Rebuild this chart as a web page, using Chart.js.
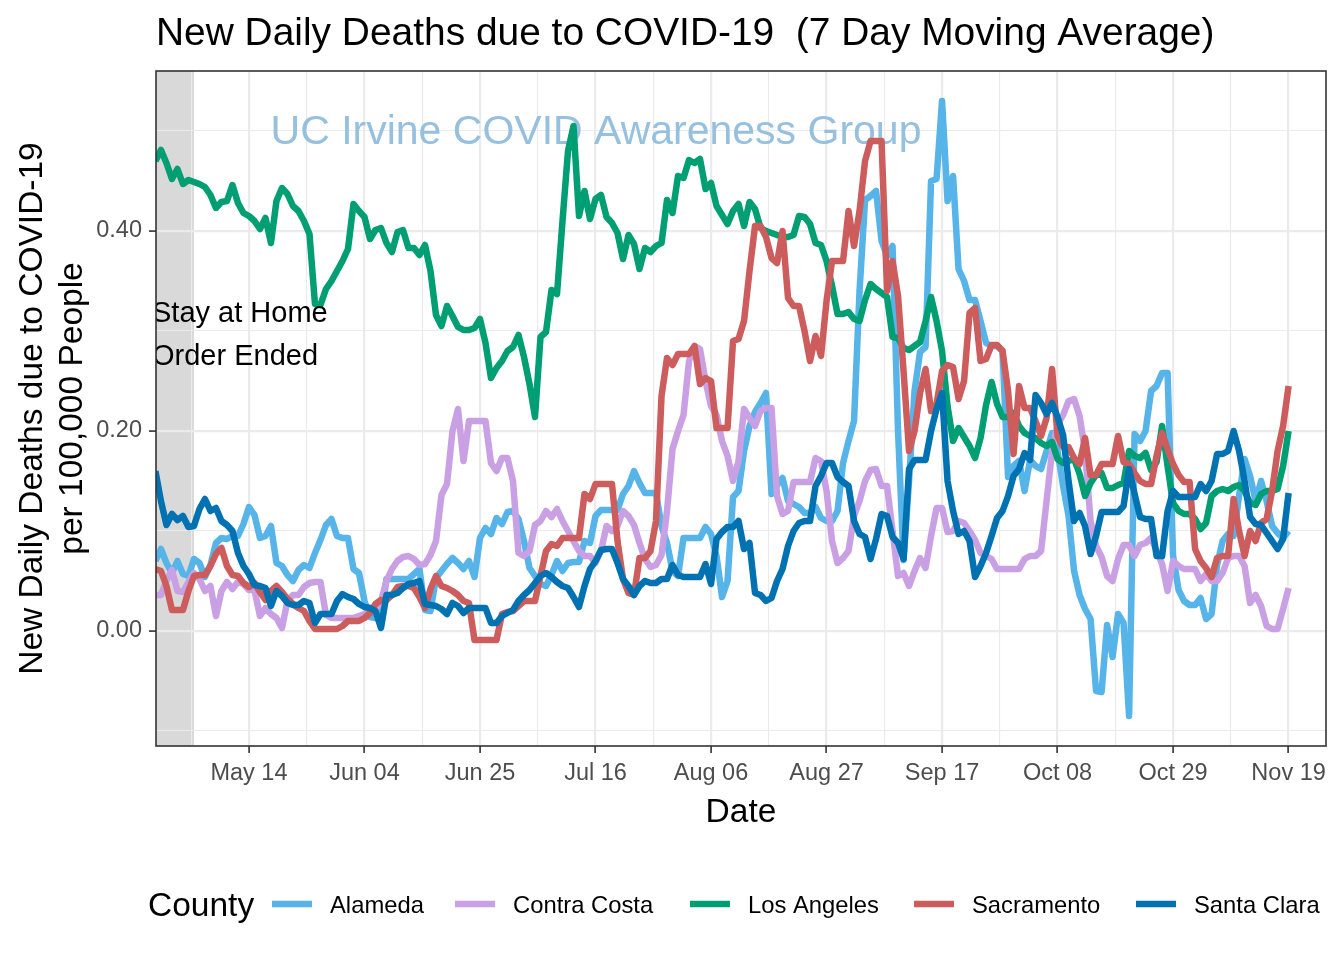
<!DOCTYPE html>
<html>
<head>
<meta charset="utf-8">
<script src="https://cdn.jsdelivr.net/npm/chart.js@4.4.1/dist/chart.umd.min.js"></script>
<style>
html,body{margin:0;padding:0;background:#ffffff;}
#wrap{width:1344px;height:960px;position:relative;}
</style>
</head>
<body>
<div id="wrap"><canvas id="c" width="1344" height="960"></canvas></div>
<script>
// ---------- data ----------
const firstDate = '2020-04-27';          // first daily value in each series
const stayHomeEnd = '2020-05-04';        // end of shaded "stay at home" period
const tickDates = ['2020-05-14','2020-06-04','2020-06-25','2020-07-16','2020-08-06','2020-08-27','2020-09-17','2020-10-08','2020-10-29','2020-11-19'];
const tickLabels = ['May 14','Jun 04','Jun 25','Jul 16','Aug 06','Aug 27','Sep 17','Oct 08','Oct 29','Nov 19'];
const yMajor = [0.0, 0.2, 0.4];
const yMinor = [-0.1, 0.1, 0.3, 0.5];
const counties = ['Alameda','Contra Costa','Los Angeles','Sacramento','Santa Clara'];
const countyColors = ['#56B4E9','#C9A0E4','#009E73','#CD5C5C','#0072B2'];

const alameda = [
 0.070,0.082,0.068,0.058,0.070,0.057,0.055,0.072,0.068,0.054,0.066,0.088,0.093,0.092,0.095,0.095,0.107,
 0.124,0.116,0.093,0.095,0.105,0.068,0.065,0.056,0.050,0.061,
 0.066,0.063,0.078,0.091,0.106,0.112,0.095,0.093,0.093,0.062,
 0.058,0.030,0.014,0.013,0.013,0.052,0.052,0.052,0.052,0.052,
 0.057,0.062,0.021,0.020,0.053,0.060,0.067,0.073,0.068,0.062,
 0.070,0.054,0.093,0.103,0.097,0.113,0.107,0.119,0.120,0.112,
 0.090,0.063,0.055,0.047,0.045,0.056,0.070,0.060,0.068,0.069,
 0.069,0.090,0.088,0.115,0.121,0.121,0.121,0.121,0.137,0.145,
 0.160,0.148,0.138,0.138,0.138,0.105,0.088,0.060,0.055,0.093,
 0.093,0.093,0.093,0.104,0.097,0.075,0.034,0.050,0.134,0.140,
 0.180,0.205,0.219,0.228,0.238,0.137,0.146,0.153,0.130,0.127,
 0.124,0.118,0.118,0.124,0.113,0.110,0.110,0.120,0.168,0.190,
 0.210,0.340,0.431,0.435,0.440,0.390,0.375,0.385,0.200,0.071,
 0.150,0.240,0.279,0.284,0.450,0.452,0.530,0.430,0.455,0.362,
 0.350,0.331,0.331,0.310,0.288,0.285,0.285,0.280,0.154,0.165,
 0.170,0.140,0.171,0.165,0.162,0.180,0.198,0.180,0.145,0.115,
 0.060,0.036,0.022,0.012,-0.060,-0.061,0.006,-0.026,0.017,0.008,
 -0.085,0.197,0.190,0.200,0.240,0.245,0.258,0.258,0.075,0.041,
 0.030,0.026,0.026,0.033,0.012,0.017,0.066,0.090,0.097,0.095,
 0.135,0.172,0.155,0.130,0.150,0.130,0.105,0.098,0.093,0.100
];

const contraCosta = [
 0.036,0.036,0.050,0.061,0.040,0.039,0.049,0.058,0.052,0.040,0.045,0.015,0.040,0.049,0.042,0.049,0.047,
 0.041,0.041,0.015,0.023,0.017,0.013,0.003,0.030,0.036,0.036,
 0.044,0.048,0.049,0.049,0.016,0.013,0.013,0.013,0.013,0.013,
 0.015,0.017,0.019,0.021,0.030,0.050,0.062,0.070,0.074,0.075,
 0.072,0.066,0.067,0.076,0.090,0.136,0.147,0.200,0.222,0.170,
 0.210,0.210,0.210,0.210,0.168,0.160,0.173,0.173,0.150,0.078,
 0.075,0.080,0.106,0.110,0.120,0.114,0.122,0.110,0.100,0.090,
 0.080,0.075,0.075,0.068,0.080,0.105,0.100,0.105,0.120,0.115,
 0.106,0.088,0.072,0.064,0.066,0.076,0.120,0.182,0.200,0.216,
 0.270,0.285,0.282,0.250,0.225,0.216,0.190,0.175,0.150,0.170,
 0.222,0.213,0.205,0.220,0.223,0.223,0.135,0.117,0.120,0.149,
 0.149,0.149,0.149,0.173,0.170,0.140,0.090,0.068,0.073,0.080,
 0.115,0.130,0.150,0.161,0.162,0.145,0.145,0.100,0.055,0.058,
 0.045,0.060,0.073,0.063,0.095,0.123,0.123,0.099,0.100,0.110,
 0.108,0.100,0.091,0.078,0.075,0.072,0.062,0.062,0.062,0.062,
 0.062,0.072,0.075,0.075,0.080,0.130,0.180,0.206,0.216,0.230,
 0.232,0.215,0.180,0.110,0.085,0.074,0.055,0.050,0.072,0.086,
 0.086,0.075,0.086,0.088,0.093,0.080,0.067,0.040,0.070,0.065,
 0.062,0.062,0.062,0.050,0.057,0.050,0.050,0.058,0.073,0.075,
 0.075,0.065,0.028,0.036,0.025,0.005,0.002,0.002,0.022,0.043
];

const losAngeles = [
 0.470,0.481,0.468,0.452,0.462,0.447,0.451,0.449,0.447,0.444,0.436,0.423,0.429,0.430,0.446,0.428,0.418,
 0.415,0.410,0.402,0.413,0.388,0.430,0.443,0.437,0.425,0.420,
 0.410,0.397,0.327,0.326,0.342,0.350,0.360,0.370,0.382,0.427,
 0.420,0.414,0.392,0.401,0.403,0.388,0.379,0.399,0.401,0.383,
 0.383,0.376,0.386,0.360,0.316,0.305,0.325,0.315,0.304,0.301,
 0.301,0.303,0.312,0.288,0.253,0.263,0.270,0.280,0.284,0.296,
 0.274,0.247,0.214,0.294,0.299,0.341,0.337,0.410,0.480,0.505,
 0.415,0.440,0.412,0.432,0.436,0.414,0.408,0.398,0.372,0.396,
 0.387,0.362,0.383,0.379,0.385,0.388,0.431,0.418,0.455,0.453,
 0.471,0.468,0.472,0.442,0.448,0.425,0.416,0.407,0.420,0.427,
 0.405,0.429,0.422,0.403,0.400,0.398,0.396,0.394,0.394,0.396,
 0.415,0.414,0.407,0.388,0.386,0.370,0.345,0.317,0.317,0.319,
 0.312,0.310,0.331,0.347,0.342,0.338,0.334,0.294,0.293,0.283,
 0.281,0.285,0.289,0.310,0.334,0.310,0.280,0.225,0.190,0.203,
 0.194,0.185,0.173,0.193,0.226,0.249,0.227,0.214,0.214,0.218,
 0.205,0.198,0.195,0.193,0.188,0.185,0.189,0.172,0.168,0.170,
 0.172,0.157,0.135,0.148,0.156,0.158,0.143,0.143,0.146,0.148,
 0.180,0.175,0.173,0.178,0.161,0.169,0.205,0.165,0.128,0.120,
 0.117,0.117,0.112,0.102,0.108,0.135,0.140,0.142,0.140,0.144,
 0.146,0.140,0.128,0.126,0.137,0.140,0.140,0.142,0.165,0.200
];

const sacramento = [
 0.062,0.060,0.045,0.021,0.021,0.021,0.040,0.055,0.056,0.056,0.065,0.077,0.083,0.065,0.056,0.055,0.048,
 0.044,0.048,0.039,0.031,0.040,0.045,0.039,0.032,0.027,0.023,
 0.020,0.010,0.002,0.002,0.002,0.002,0.002,0.005,0.010,0.010,
 0.010,0.013,0.018,0.027,0.031,0.031,0.036,0.044,0.045,0.045,
 0.043,0.034,0.023,0.042,0.055,0.045,0.043,0.040,0.036,0.030,
 0.028,-0.009,-0.009,-0.009,-0.009,-0.009,0.017,0.019,0.020,0.025,
 0.030,0.030,0.030,0.055,0.080,0.087,0.085,0.093,0.093,0.093,
 0.093,0.137,0.132,0.147,0.147,0.147,0.147,0.090,0.052,0.038,
 0.036,0.073,0.073,0.080,0.110,0.235,0.273,0.266,0.277,0.277,
 0.277,0.285,0.247,0.253,0.250,0.203,0.203,0.203,0.290,0.292,
 0.310,0.360,0.405,0.405,0.394,0.373,0.368,0.400,0.333,0.325,
 0.325,0.300,0.270,0.295,0.275,0.330,0.370,0.370,0.370,0.420,
 0.385,0.420,0.470,0.490,0.490,0.490,0.340,0.370,0.335,0.260,
 0.180,0.200,0.238,0.262,0.220,0.227,0.260,0.266,0.264,0.232,
 0.250,0.318,0.323,0.270,0.272,0.286,0.286,0.280,0.240,0.177,
 0.245,0.223,0.223,0.210,0.195,0.213,0.262,0.195,0.184,0.184,
 0.173,0.167,0.193,0.156,0.156,0.167,0.167,0.167,0.195,0.169,
 0.167,0.158,0.150,0.147,0.147,0.175,0.198,0.182,0.167,0.156,
 0.149,0.149,0.082,0.070,0.063,0.054,0.073,0.075,0.075,0.132,
 0.100,0.075,0.100,0.090,0.108,0.112,0.140,0.180,0.205,0.245
];

const santaClara = [
 0.160,0.130,0.106,0.117,0.111,0.115,0.104,0.105,0.122,0.132,0.120,0.123,0.110,0.106,0.100,0.078,0.065,
 0.057,0.046,0.045,0.043,0.025,0.040,0.035,0.028,0.026,0.026,
 0.030,0.028,0.008,0.017,0.017,0.017,0.030,0.037,0.034,0.032,
 0.027,0.024,0.023,0.020,0.003,0.036,0.036,0.038,0.043,0.047,
 0.048,0.050,0.027,0.026,0.025,0.022,0.017,0.028,0.025,0.018,
 0.023,0.023,0.023,0.023,0.008,0.008,0.015,0.018,0.021,0.030,
 0.036,0.041,0.048,0.055,0.058,0.054,0.049,0.045,0.043,0.034,
 0.024,0.045,0.062,0.070,0.081,0.082,0.082,0.068,0.052,0.045,
 0.036,0.045,0.050,0.048,0.048,0.052,0.052,0.066,0.056,0.054,
 0.054,0.054,0.054,0.067,0.047,0.092,0.099,0.104,0.104,0.110,
 0.082,0.088,0.038,0.036,0.030,0.033,0.050,0.062,0.085,0.100,
 0.108,0.110,0.110,0.145,0.155,0.168,0.168,0.154,0.149,0.145,
 0.110,0.097,0.094,0.072,0.092,0.117,0.115,0.094,0.088,0.072,
 0.162,0.171,0.171,0.171,0.200,0.222,0.238,0.150,0.120,0.097,
 0.100,0.090,0.054,0.065,0.078,0.095,0.113,0.120,0.135,0.155,
 0.162,0.178,0.171,0.236,0.228,0.217,0.228,0.214,0.196,0.150,
 0.110,0.118,0.105,0.077,0.095,0.119,0.119,0.119,0.119,0.125,
 0.162,0.137,0.114,0.112,0.112,0.075,0.075,0.120,0.140,0.134,
 0.134,0.134,0.134,0.147,0.140,0.150,0.177,0.177,0.180,0.200,
 0.180,0.150,0.114,0.107,0.106,0.098,0.090,0.082,0.092,0.138
];

// ---------- helpers ----------
const FONT = "'Liberation Sans', Arial, Helvetica, sans-serif";
const ORIGIN = Date.UTC(2020, 4, 14);
function dayOf(s) { const p = s.split('-').map(Number); return (Date.UTC(p[0], p[1]-1, p[2]) - ORIGIN) / 86400000; }
const near = (a, b) => Math.abs(a - b) < 1e-6;

const majorX = tickDates.map(dayOf);
const minorX = [majorX[0] - (majorX[1] - majorX[0]) / 2];
for (let i = 0; i < majorX.length - 1; i++) minorX.push((majorX[i] + majorX[i+1]) / 2);
const xTickValues = majorX.concat(minorX).sort((a, b) => a - b);
const yTickValues = yMajor.concat(yMinor).sort((a, b) => a - b);
const isMajorX = v => majorX.some(m => near(m, v));
const isMajorY = v => yMajor.some(m => near(m, v));

const LINE_W = 6.5;
const start = dayOf(firstDate);
const seriesValues = [alameda, contraCosta, losAngeles, sacramento, santaClara];
const datasets = counties.map((name, k) => ({
  label: name,
  data: seriesValues[k].map((v, i) => ({ x: start + i, y: v })),
  borderColor: countyColors[k],
  backgroundColor: countyColors[k],
  borderWidth: LINE_W,
  pointRadius: 0,
  pointHoverRadius: 0,
  tension: 0,
  fill: false,
  clip: 0,
  borderJoinStyle: 'round',
  borderCapStyle: 'butt',
  order: counties.length - k
}));

const decor = {
  id: 'decor',
  beforeDraw(chart) {
    const { ctx, chartArea: a, scales: { x } } = chart;
    ctx.save();
    ctx.fillStyle = '#ffffff';
    ctx.fillRect(0, 0, chart.width, chart.height);
    const xe = x.getPixelForValue(dayOf(stayHomeEnd));
    ctx.fillStyle = '#D9D9D9';
    ctx.fillRect(a.left, a.top, xe - a.left, a.bottom - a.top);
    ctx.restore();
  },
  beforeDatasetsDraw(chart) {
    const { ctx } = chart;
    ctx.save();
    ctx.font = '41px ' + FONT;
    ctx.fillStyle = 'rgb(150,192,222)';
    ctx.textAlign = 'center';
    ctx.textBaseline = 'alphabetic';
    ctx.fillText('UC Irvine COVID Awareness Group', 596, 144);
    ctx.restore();
  },
  afterDatasetsDraw(chart) {
    const { ctx, chartArea: a } = chart;
    ctx.save();
    ctx.beginPath();
    ctx.rect(a.left, a.top, a.right - a.left, a.bottom - a.top);
    ctx.clip();
    ctx.font = '29px ' + FONT;
    ctx.fillStyle = '#000000';
    ctx.textAlign = 'left';
    ctx.textBaseline = 'alphabetic';
    ctx.fillText('Stay at Home', 152, 322);
    ctx.fillText('Order Ended', 152, 365);
    ctx.restore();
    ctx.save();
    ctx.strokeStyle = '#333333';
    ctx.lineWidth = 1.6;
    ctx.strokeRect(a.left, a.top, a.right - a.left, a.bottom - a.top);
    ctx.restore();
  },
  afterDraw(chart) {
    const { ctx, chartArea: a } = chart;
    ctx.save();
    ctx.fillStyle = '#000000';
    ctx.textBaseline = 'alphabetic';
    // title
    ctx.font = '38.9px ' + FONT;
    ctx.textAlign = 'left';
    ctx.fillText('New Daily Deaths due to COVID-19  (7 Day Moving Average)', 156, 45);
    // x title
    ctx.font = '33.5px ' + FONT;
    ctx.textAlign = 'center';
    ctx.fillText('Date', (a.left + a.right) / 2, 822);
    // y title
    ctx.save();
    ctx.translate(0, (a.top + a.bottom) / 2);
    ctx.rotate(-Math.PI / 2);
    ctx.fillText('New Daily Deaths due to COVID-19', 0, 42);
    ctx.fillText('per 100,000 People', 0, 82);
    ctx.restore();
    // legend
    ctx.textAlign = 'left';
    ctx.font = '33.5px ' + FONT;
    ctx.fillText('County', 148, 916);
    const keyX = [272, 455, 690, 914, 1136];
    ctx.font = '23.8px ' + FONT;
    counties.forEach((name, k) => {
      ctx.strokeStyle = countyColors[k];
      ctx.lineWidth = LINE_W;
      ctx.lineCap = 'butt';
      ctx.beginPath();
      ctx.moveTo(keyX[k], 904);
      ctx.lineTo(keyX[k] + 40, 904);
      ctx.stroke();
      ctx.fillStyle = '#000000';
      ctx.fillText(name, keyX[k] + 58, 912.5);
    });
    ctx.restore();
  }
};

new Chart(document.getElementById('c'), {
  type: 'line',
  data: { datasets },
  plugins: [decor],
  options: {
    responsive: false,
    animation: false,
    devicePixelRatio: 1,
    layout: { padding: { top: 71, right: 18, bottom: 0, left: 0 } },
    plugins: { legend: { display: false }, tooltip: { enabled: false }, title: { display: false } },
    events: [],
    scales: {
      x: {
        type: 'linear',
        min: -16.9,
        max: 195.8,
        afterBuildTicks: s => { s.ticks = xTickValues.map(v => ({ value: v })); },
        afterFit: s => { s.height = 214; s.paddingLeft = 0; s.paddingRight = 0; },
        border: { display: false },
        grid: {
          color: '#EBEBEB',
          lineWidth: c => (c.tick && isMajorX(c.tick.value)) ? 2.2 : 1.1,
          drawTicks: true,
          tickLength: 7,
          tickWidth: 1.6,
          tickColor: c => (c.tick && isMajorX(c.tick.value)) ? '#333333' : 'rgba(0,0,0,0)'
        },
        ticks: {
          autoSkip: false, maxRotation: 0, minRotation: 0, padding: 6,
          color: '#4D4D4D',
          font: { family: FONT, size: 23.5 },
          callback: v => { const i = majorX.findIndex(m => near(m, v)); return i >= 0 ? tickLabels[i] : ''; }
        }
      },
      y: {
        type: 'linear',
        min: -0.115,
        max: 0.56,
        afterBuildTicks: s => { s.ticks = yTickValues.map(v => ({ value: v })); },
        afterFit: s => { s.width = 156; },
        border: { display: false },
        grid: {
          color: '#EBEBEB',
          lineWidth: c => (c.tick && isMajorY(c.tick.value)) ? 2.2 : 1.1,
          drawTicks: true,
          tickLength: 7,
          tickWidth: 1.6,
          tickColor: c => (c.tick && isMajorY(c.tick.value)) ? '#333333' : 'rgba(0,0,0,0)'
        },
        ticks: {
          autoSkip: false, padding: 7,
          color: '#4D4D4D',
          font: { family: FONT, size: 23.5 },
          callback: v => isMajorY(v) ? v.toFixed(2) : ''
        }
      }
    }
  }
});
</script>
</body>
</html>
